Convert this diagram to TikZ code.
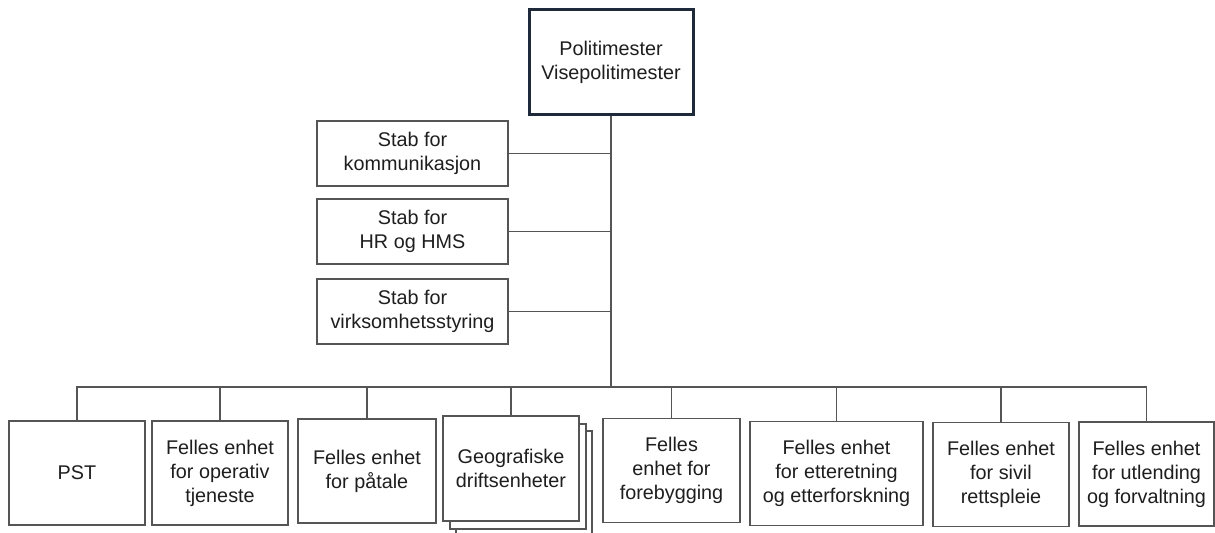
\documentclass[tikz,border=0pt]{standalone}
\usepackage{fontspec}
\setmainfont{Liberation Sans}
\usetikzlibrary{shadows}

\definecolor{linegray}{HTML}{555555}
\definecolor{chiefblue}{HTML}{1E2A3A}
\definecolor{textgray}{HTML}{1E1E1E}

\begin{document}
\begin{tikzpicture}[x = 0.5pt, y = -0.5pt,
    font = \fontsize{9.9}{12}\selectfont,
    unit/.style = {draw = linegray, line width = 0.9pt, fill = white, text = textgray, align = center, inner sep = 0pt},
    staff/.style = {unit, minimum width = 95.5pt, minimum height = 32.5pt},
    dept/.style = {unit, minimum width = 68pt, minimum height = 52pt},
    link/.style = {draw = linegray, line width = 0.9pt}]
    \useasboundingbox (0,0) rectangle (1215,532);

    \node[unit, draw = chiefblue, line width = 1.5pt, minimum width = 82pt, minimum height = 52.5pt](chief) at (611,62) {Politimester\\Visepolitimester};

    \node[staff](commStaff) at (412.5,153.5) {Stab for\\kommunikasjon};
    \node[staff](hrStaff) at (412.5,231.5) {Stab for\\HR og HMS};
    \node[staff](mgmtStaff) at (412.5,311.5) {Stab for\\virksomhetsstyring};

    \node[dept](pst) at (77,473) {PST};
    \node[dept](operative) at (220,473) {Felles enhet\\for operativ\\tjeneste};
    \node[dept, minimum width = 69pt](prosecution) at (367,471) {Felles enhet\\for påtale};
    \node[dept, minimum height = 52.5pt,
        copy shadow = {shadow xshift = 6.5pt, shadow yshift = -7.5pt, draw = linegray},
        copy shadow = {shadow xshift = 3.5pt, shadow yshift = -4pt, draw = linegray}](districts) at (511,468.5) {Geografiske\\driftsenheter};
    \node[dept, minimum width = 68.5pt](prevention) at (671.5,470.5) {Felles\\enhet for\\forebygging};
    \node[dept, minimum width = 86.5pt](intelligence) at (836.5,473.5) {Felles enhet\\for etteretning\\og etterforskning};
    \node[dept](civil) at (1001,474.5) {Felles enhet\\for sivil\\rettspleie};
    \node[dept, minimum width = 67.5pt](immigration) at (1146.5,474) {Felles enhet\\for utlending\\og forvaltning};

    % trunk and bus
    \coordinate (bus) at (611,387);
    \draw[link] (chief.south) -- (bus);
    \foreach \s in {commStaff,hrStaff,mgmtStaff}
        \draw[link] (\s.east) -- (\s.east -| chief.south);
    \foreach \d in {pst,operative,prosecution,districts,prevention,intelligence,civil,immigration}
        \draw[link] (bus) -| (\d.north);
\end{tikzpicture}
\end{document}
